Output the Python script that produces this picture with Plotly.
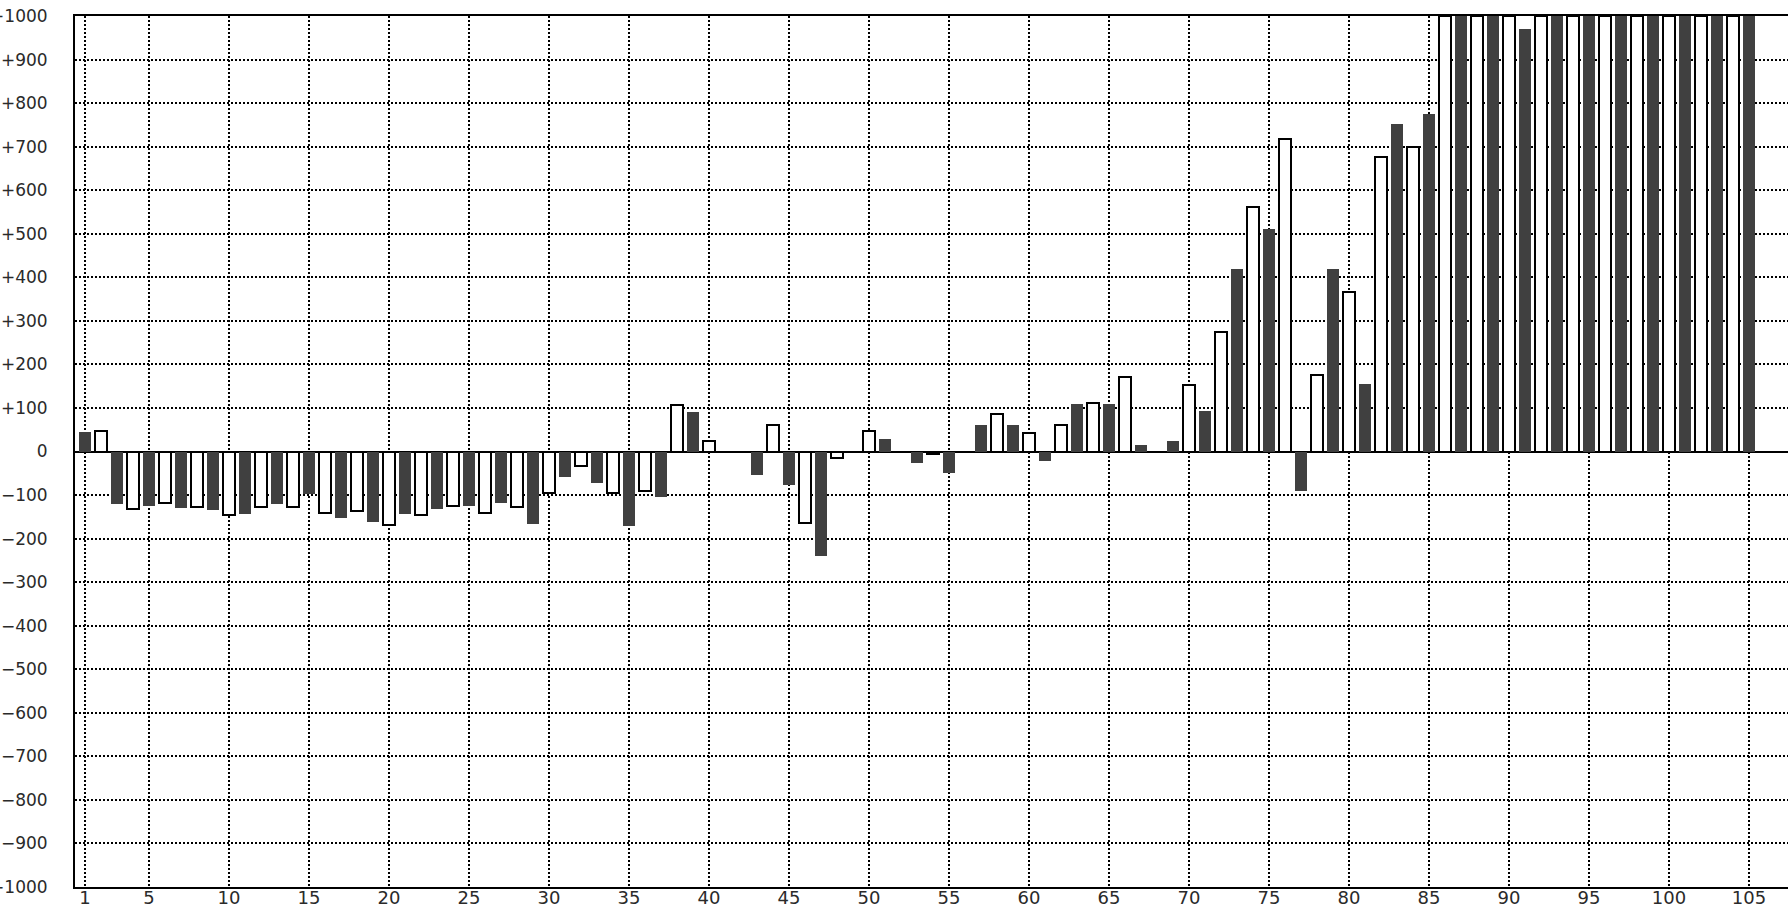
import plotly.graph_objects as go

# Bars at odd positions (dark filled) : 1, 3, 5, ..., 105
odd_values = [44, -120, -125, -130, -134, -144, -120, -98, -153, -162,
              -143, -133, -124, -119, -166, -59, -73, -171, -105, 90,
              0, -54, -78, -240, 0, 29, -26, -50, 62, 62,
              -22, 108, 108, 15, 25, 94, 419, 512, -91, 419,
              155, 752, 775, 1000, 1000, 971, 1000, 1000, 1000, 1000,
              1000, 1000, 1000]
# Bars at even positions (white outlined) : 2, 4, 6, ..., 104
even_values = [47, -131, -118, -128, -146, -128, -128, -141, -137, -169,
               -145, -126, -142, -127, -96, -34, -95, -90, 107, 24,
               0, 61, -165, -15, 47, 0, -5, 0, 85, 43,
               61, 111, 172, 0, 153, 274, 561, 718, 176, 366,
               676, 700, 1000, 1000, 1000, 1000, 1000, 1000, 1000, 1000,
               1000, 1000]

odd_x = list(range(1, 106, 2))
even_x = list(range(2, 105, 2))

x_tickvals = [1] + list(range(5, 106, 5))
x_ticktext = [str(v) for v in x_tickvals]

y_tickvals = list(range(-1000, 1001, 100))
y_ticktext = [("+" + str(v)) if v > 0 else ("0" if v == 0 else "\u2212" + str(-v))
              for v in y_tickvals]

fig = go.Figure()
fig.add_trace(go.Bar(x=odd_x, y=odd_values, width=0.75,
                     marker=dict(color="#404040", line=dict(width=0)),
                     showlegend=False, hoverinfo="x+y"))
fig.add_trace(go.Bar(x=even_x, y=even_values, width=0.72,
                     marker=dict(color="#ffffff", line=dict(color="#000000", width=2)),
                     showlegend=False, hoverinfo="x+y"))

xfont = dict(family="DejaVu Sans", size=18, color="#2a2a2a")
yfont = dict(family="DejaVu Sans", size=17, color="#2a2a2a")

fig.update_layout(
    width=1788, height=908,
    margin=dict(l=75, r=0, t=16, b=21, pad=0, autoexpand=False),
    paper_bgcolor="white", plot_bgcolor="white",
    barmode="overlay",
    bargap=0,
    font=xfont,
    xaxis=dict(
        range=[0.375, 107.44], automargin=False,
        tickmode="array", tickvals=x_tickvals, ticktext=x_ticktext,
        showgrid=True, gridcolor="black", gridwidth=2, griddash="2px,2px",
        showline=True, linecolor="black", linewidth=2, mirror=True,
        ticks="", zeroline=False, tickfont=xfont, ticklabelstandoff=-7,
    ),
    yaxis=dict(
        range=[-1000, 1000], automargin=False,
        tickmode="array", tickvals=y_tickvals, ticktext=y_ticktext,
        showgrid=True, gridcolor="black", gridwidth=2, griddash="2px,2px",
        showline=True, linecolor="black", linewidth=2, mirror=False,
        zeroline=True, zerolinecolor="black", zerolinewidth=2,
        ticks="", ticklabelstandoff=22, tickfont=yfont,
    ),
)

fig.write_html("out.html", config={"displayModeBar": False},
               post_script="document.body.style.margin='0';document.body.style.overflow='hidden';")
